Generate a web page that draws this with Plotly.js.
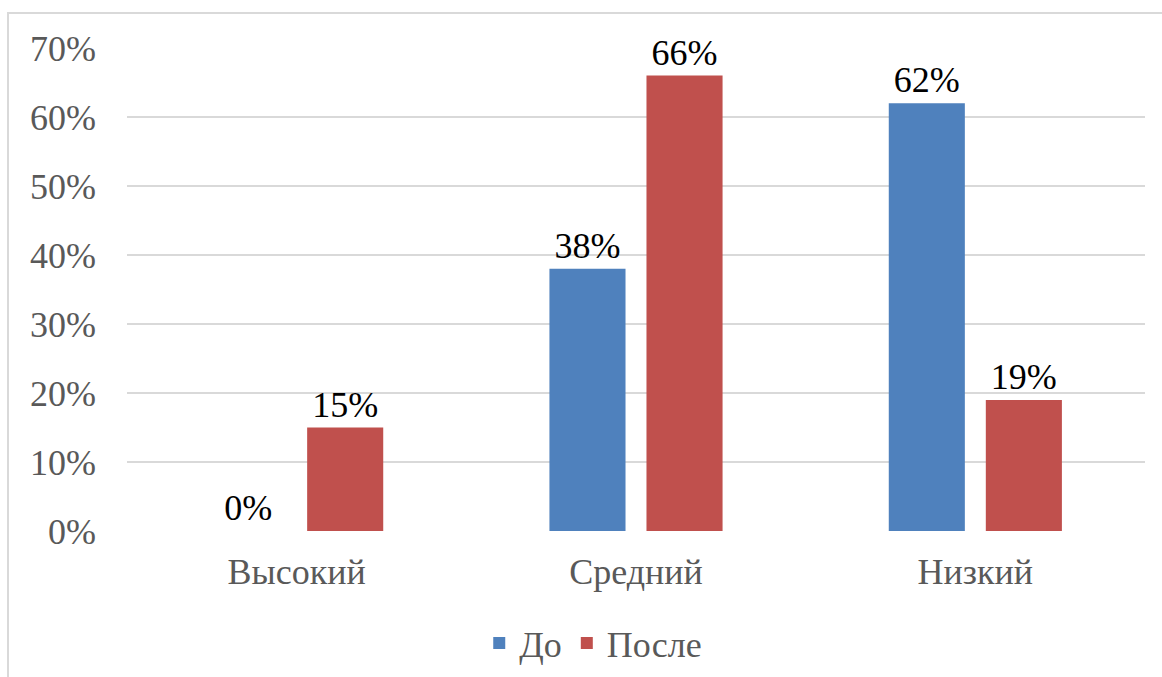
<!DOCTYPE html>
<html>
<head>
<meta charset="utf-8">
<script src="https://cdn.plot.ly/plotly-3.0.1.min.js"></script>
<style>html,body{margin:0;padding:0;background:#fff}#chart{width:1162px;height:677px}</style>
</head>
<body>
<div id="chart"></div>
<script>
const categories = ["Высокий", "Средний", "Низкий"];
const seriesNames = ["До", "После"];
const valuesBefore = [0.00, 0.38, 0.62];
const valuesAfter = [0.15, 0.66, 0.19];
const tickValues = [0, 0.1, 0.2, 0.3, 0.4, 0.5, 0.6, 0.7];
const tickLabels = ["0%", "10%", "20%", "30%", "40%", "50%", "60%", "70%"];

const font = "'Liberation Serif', 'Times New Roman', serif";
const pct = v => Math.round(v * 100) + "%";

const traces = [
  {type: "bar", name: seriesNames[0], x: categories, y: valuesBefore,
   marker: {color: "#4F81BD"}, text: valuesBefore.map(pct), textposition: "outside",
   textfont: {family: font, size: 36, color: "#000"}, cliponaxis: false, hoverinfo: "none"},
  {type: "bar", name: seriesNames[1], x: categories, y: valuesAfter,
   marker: {color: "#C0504D"}, text: valuesAfter.map(pct), textposition: "outside",
   textfont: {family: font, size: 36, color: "#000"}, cliponaxis: false, hoverinfo: "none"}
];

const layout = {
  width: 1162, height: 677,
  margin: {l: 127, r: 17, t: 48, b: 146, autoexpand: false},
  paper_bgcolor: "#fff", plot_bgcolor: "#fff",
  font: {family: font, size: 36, color: "#595959"},
  barmode: "group", bargap: 0.428, bargroupgap: 0.216,
  showlegend: true,
  legend: {orientation: "h", x: 0.458, xanchor: "center", y: -0.232, yanchor: "middle",
           font: {family: font, size: 36, color: "#595959"}, itemwidth: 30, tracegroupgap: 0},
  xaxis: {showgrid: false, zeroline: false, showline: false, ticks: "", automargin: false,
          tickfont: {family: font, size: 36, color: "#595959"}, ticklabelstandoff: 16},
  yaxis: {range: [0, 0.7], tickvals: tickValues, ticktext: tickLabels, automargin: false,
          showgrid: true, gridcolor: "#d9d9d9", gridwidth: 1.5, zeroline: false, showline: false,
          ticks: "", tickfont: {family: font, size: 36, color: "#595959"}, ticklabelstandoff: 30},
  shapes: [
    {type: "rect", xref: "paper", yref: "paper", x0: (8 - 127) / 1018, x1: 1.05,
     y0: -0.4, y1: (531 - 13) / 483, line: {color: "#d9d9d9", width: 2}, fillcolor: "rgba(0,0,0,0)", layer: "below"}
  ]
};

Plotly.newPlot("chart", traces, layout, {displayModeBar: false, staticPlot: true});
</script>
</body>
</html>
